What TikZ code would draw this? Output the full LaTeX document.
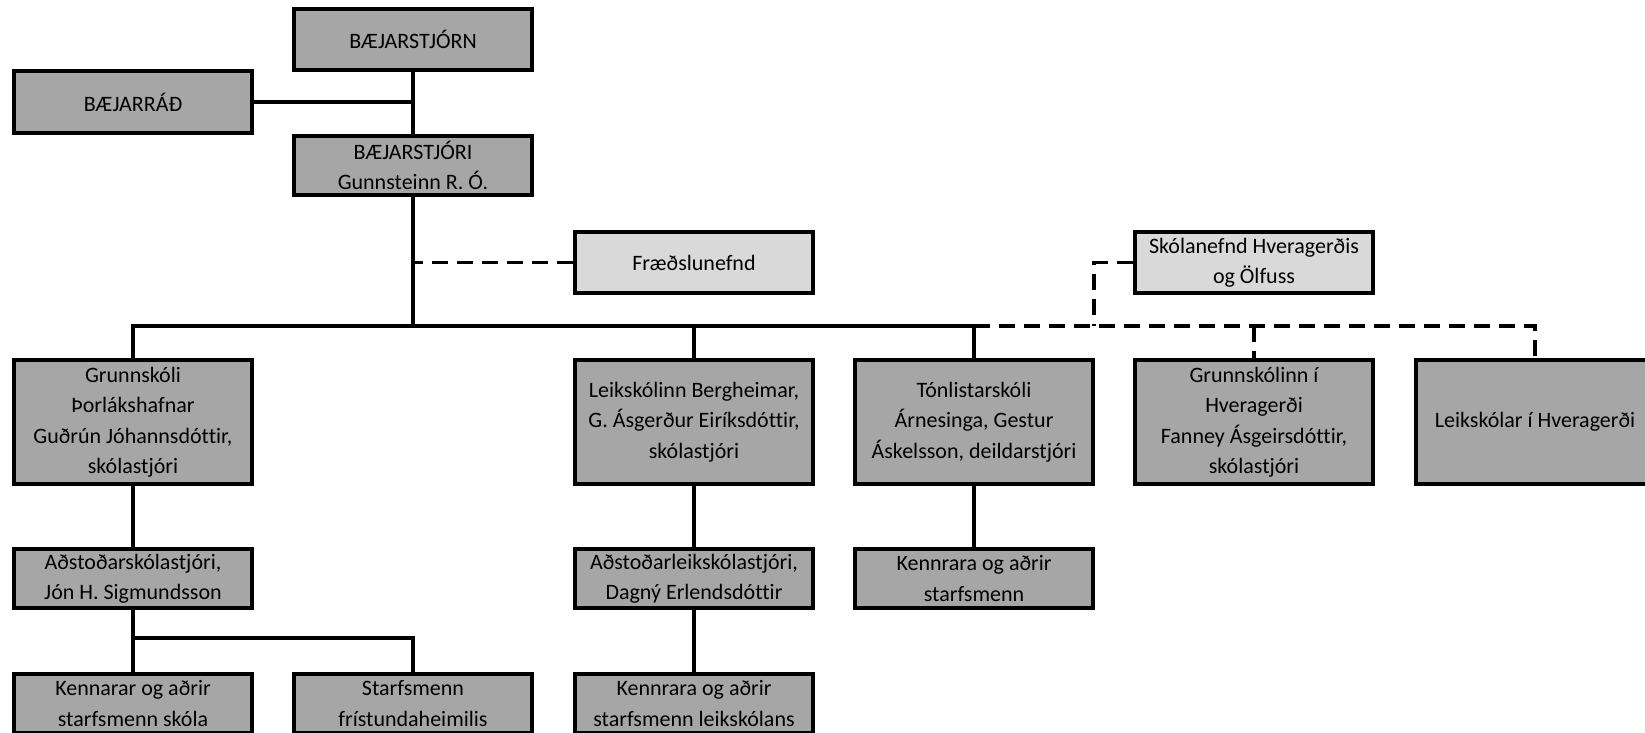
\documentclass[tikz,border=0pt]{standalone}
\usepackage{fontspec}
\setmainfont{Carlito}[Ligatures={NoCommon}]
\definecolor{boxgray}{HTML}{A6A6A6}
\definecolor{lightgraybox}{HTML}{D9D9D9}
\begin{document}
\begin{tikzpicture}[x=1pt,y=-1pt,
  box/.style={draw=black, line width=4pt, fill=boxgray, minimum width=238pt,
    inner sep=0pt, align=center, text=black, font=\fontsize{22}{30.5}\selectfont},
  lightbox/.style={box, fill=lightgraybox},
  conn/.style={line width=3.5pt, line join=miter},
  dconn/.style={line width=3.5pt, dash pattern=on 16pt off 9pt, line join=miter}]
\useasboundingbox (0,0) rectangle (1645,732);
\clip (0,0) rectangle (1645,732);
% top part
\node[box, minimum height=61pt] (top) at (413,39.5) {BÆJARSTJÓRN};
\node[box, minimum height=62pt] (radh) at (133,102) {BÆJARRÁÐ};
\node[box, minimum height=59pt] (mayor) at (413,165.5) {BÆJARSTJÓRI\\Gunnsteinn R. Ó.};
\node[lightbox, minimum height=61pt] (fraed) at (694,262.5) {Fræðslunefnd};
\node[lightbox, minimum height=61pt] (skola) at (1254,262.5) {Skólanefnd Hveragerðis\\og Ölfuss};
% row 2
\node[box, minimum height=124pt] (grunn) at (133,422) {Grunnskóli\\Þorlákshafnar\\Guðrún Jóhannsdóttir,\\skólastjóri};
\node[box, minimum height=124pt] (leik) at (694,422) {Leikskólinn Bergheimar,\\G. Ásgerður Eiríksdóttir,\\skólastjóri};
\node[box, minimum height=124pt] (ton) at (974,422) {Tónlistarskóli\\Árnesinga, Gestur\\Áskelsson, deildarstjóri};
\node[box, minimum height=124pt] (grunnh) at (1254,422) {Grunnskólinn í\\Hveragerði\\Fanney Ásgeirsdóttir,\\skólastjóri};
\node[box, minimum height=124pt] (leikh) at (1535,422) {Leikskólar í Hveragerði};
% row 3
\node[box, minimum height=59pt] (adst) at (133,578.5) {Aðstoðarskólastjóri,\\Jón H. Sigmundsson};
\node[box, minimum height=59pt] (adstl) at (694,578.5) {Aðstoðarleikskólastjóri,\\Dagný Erlendsdóttir};
\node[box, minimum height=59pt] (kennt) at (974,578.5) {Kennrara og aðrir\\starfsmenn};
% row 4
\node[box, minimum height=59pt] (kenns) at (133,703.5) {Kennarar og aðrir\\starfsmenn skóla};
\node[box, minimum height=59pt] (starf) at (413,703.5) {Starfsmenn\\frístundaheimilis};
\node[box, minimum height=59pt] (kennl) at (694,703.5) {Kennrara og aðrir\\starfsmenn leikskólans};
% coordinates
\coordinate (bus) at (413,326);
\coordinate (skbend) at (1094,262.5);
\coordinate (skbus) at (1094,326);
\coordinate (sub) at (133,638);
% connectors
\draw[conn] (top.south) -- (mayor.north);
\draw[conn] (radh.east) -- (radh.east -| top.south);
\draw[conn] (mayor.south) -- (bus);
\draw[conn] (grunn.north) -- (grunn.north |- bus) -- (ton.north |- bus) -- (ton.north);
\draw[conn] (leik.north) -- (leik.north |- bus);
\draw[dconn] (fraed.west) -- (fraed.west -| bus);
\draw[dconn] (ton.north |- bus) -- (leikh.north |- bus) -- (leikh.north);
\draw[dconn] (grunnh.north |- bus) -- (grunnh.north);
\draw[dconn] (skola.west) -- (skbend) -- (skbus);
\draw[conn] (grunn.south) -- (adst.north);
\draw[conn] (leik.south) -- (adstl.north);
\draw[conn] (ton.south) -- (kennt.north);
\draw[conn] (adst.south) -- (kenns.north);
\draw[conn] (sub) -- (sub -| starf.north) -- (starf.north);
\draw[conn] (adstl.south) -- (kennl.north);
\end{tikzpicture}
\end{document}
